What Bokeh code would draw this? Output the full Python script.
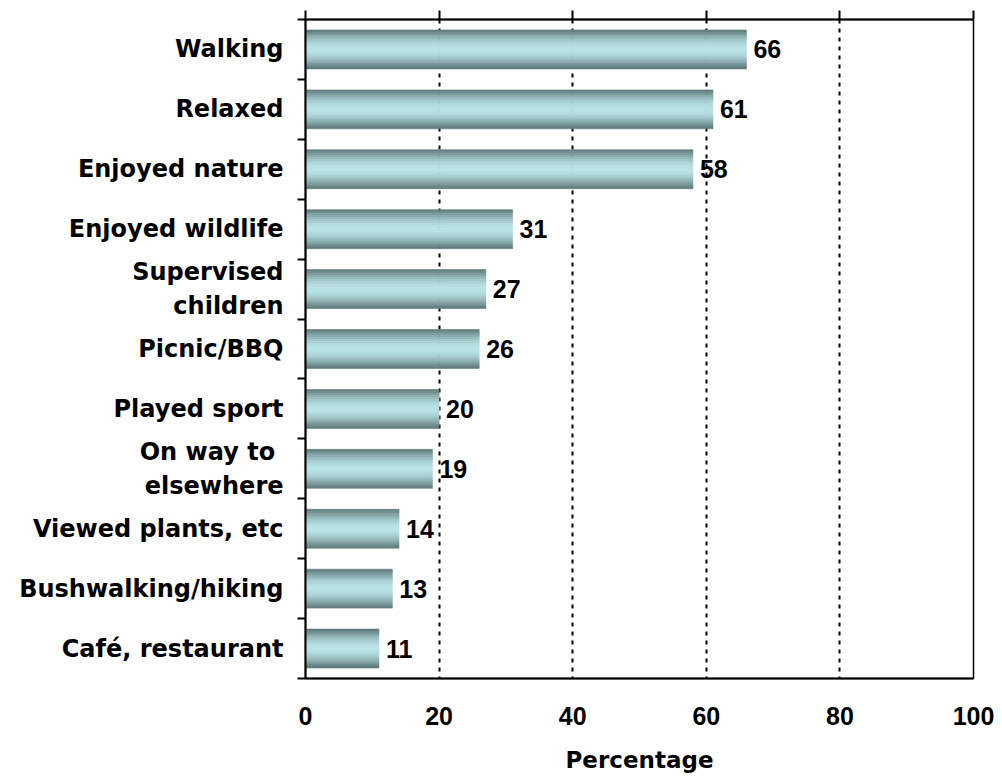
import numpy as np
from bokeh.plotting import figure
from bokeh.models import (Range1d, FixedTicker, LinearAxis, ColumnDataSource,
                          LabelSet, Grid)
from bokeh.core.properties import value
from bokeh.embed import file_html
from bokeh.resources import INLINE

# ---- data ----
categories = ["Walking", "Relaxed", "Enjoyed nature", "Enjoyed wildlife",
              "Supervised\nchildren", "Picnic/BBQ", "Played sport",
              "On way to \nelsewhere", "Viewed plants, etc",
              "Bushwalking/hiking", "Café, restaurant"]
values = [66, 61, 58, 31, 27, 26, 20, 19, 14, 13, 11]
x_ticks = [0, 20, 40, 60, 80, 100]
x_label = "Percentage"

n = len(categories)
centers = [i + 0.5 for i in range(n)]

p = figure(frame_width=668, frame_height=659,
           x_range=Range1d(0, 100), y_range=Range1d(n, 0),
           output_backend="svg", toolbar_location=None,
           x_axis_location=None, y_axis_location=None,
           min_border_left=305, min_border_top=19,
           min_border_right=21, min_border_bottom=88)
p.outline_line_color = "black"
p.outline_line_width = 1.5
for g in p.grid:
    g.visible = False

# gridlines
p.add_layout(Grid(dimension=0, ticker=FixedTicker(ticks=x_ticks[1:]),
                  grid_line_color="black", grid_line_dash="4 5",
                  grid_line_width=2))

# gradient bars built from thin strips
N = 20
bar_h = 0.65
dark = np.array([92, 120, 120])
light = np.array([184, 226, 228])
ys, rights, colors = [], [], []
for i, v in enumerate(values):
    for k in range(N):
        t = (k + 0.5) / N
        f = np.sin(np.pi * t) ** 1.1
        c = dark + (light - dark) * f
        ys.append(centers[i] - bar_h / 2 + (k + 0.5) * bar_h / N)
        rights.append(v)
        colors.append("#%02x%02x%02x" % tuple(int(round(x)) for x in c))
strip_src = ColumnDataSource(dict(y=ys, right=rights, color=colors))
p.hbar(y="y", right="right", left=0, height=bar_h / N, fill_color="color",
       line_color="color", line_width=0.6, source=strip_src)

# value labels
lab_src = ColumnDataSource(dict(x=values, y=centers,
                                t=[str(v) for v in values]))
p.add_layout(LabelSet(x="x", y="y", text="t", source=lab_src, x_offset=7,
                      text_baseline="middle", text_align="left",
                      text_font=value("Liberation Sans"),
                      text_font_style="bold",
                      text_font_size=value("25px"), text_color="black"))

# left axis: labels at centers, ticks at boundaries
yax = LinearAxis(ticker=FixedTicker(ticks=centers, minor_ticks=list(range(n + 1))),
                 major_label_overrides={c: lab for c, lab in zip(centers, categories)},
                 major_tick_out=0, major_tick_in=0,
                 minor_tick_out=8, minor_tick_in=0, minor_tick_line_width=2,
                 axis_line_width=2, major_label_standoff=14,
                 major_label_text_font="DejaVu Sans",
                 major_label_text_font_style="bold",
                 major_label_text_font_size="24px",
                 major_label_text_color="black")
p.add_layout(yax, "left")

# top axis: ticks only (empty labels)
tax = LinearAxis(ticker=FixedTicker(ticks=x_ticks), major_tick_out=9,
                 major_tick_in=0, minor_tick_out=0, minor_tick_in=0,
                 major_tick_line_width=2, axis_line_width=2,
                 major_label_overrides={t: "" for t in x_ticks},
                 major_label_text_font_size="8px", major_label_standoff=0)
p.add_layout(tax, "above")

# bottom axis: labels only
bax = LinearAxis(ticker=FixedTicker(ticks=x_ticks), major_tick_out=0,
                 major_tick_in=0, minor_tick_out=0, minor_tick_in=0,
                 axis_line_width=2, major_label_standoff=28,
                 major_label_text_font="Liberation Sans",
                 major_label_text_font_style="bold",
                 major_label_text_font_size="25px",
                 major_label_text_color="black",
                 axis_label=x_label, axis_label_standoff=19,
                 axis_label_text_font="DejaVu Sans",
                 axis_label_text_font_style="bold",
                 axis_label_text_font_size="23px",
                 axis_label_text_color="black")
p.add_layout(bax, "below")

open("out.html", "w").write(file_html(p, INLINE))
